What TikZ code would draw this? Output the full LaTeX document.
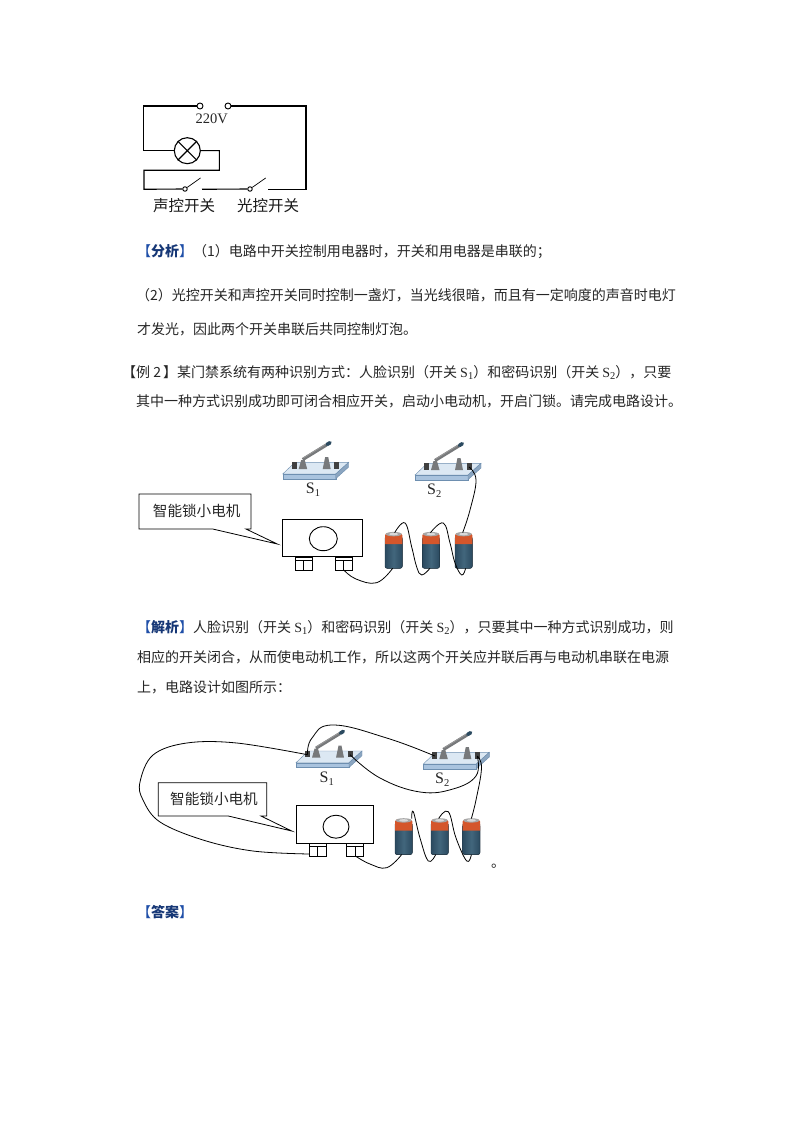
\documentclass[tikz,border=0pt]{standalone}
\usepackage{fontspec}
\usetikzlibrary{calc,shapes.geometric}
\setmainfont{Noto Sans CJK SC}
\newfontfamily\tnr{Liberation Serif}
\newcommand{\subnum}[1]{{\tnr S\raisebox{-2.2pt}{\fontsize{10.5}{11}\selectfont #1}}}
\newcommand{\bigS}[1]{{\tnr\fontsize{16}{16}\selectfont S\raisebox{-2.8pt}{\fontsize{10.5}{11}\selectfont #1}}}
\definecolor{bluebr}{HTML}{1F4FA8}
\definecolor{bodyD}{HTML}{2B4A60}
\definecolor{bodyL}{HTML}{42667C}
\definecolor{orng}{HTML}{D4562B}
\definecolor{plate}{HTML}{DCE8F3}
\definecolor{plateD}{HTML}{A9C3DE}
\definecolor{platee}{HTML}{6E8FB0}
\definecolor{postc}{HTML}{77797B}
\tikzset{
  para/.style={anchor=base west,inner sep=0pt,font=\fontsize{14}{14}\selectfont,text=black!85},
  wire/.style={draw=black,line width=0.8pt},
  cct/.style={draw=black,line width=1.1pt},
  term/.style={circle,draw=black,fill=white,line width=0.9pt,inner sep=0pt,minimum size=6pt},
  captxt/.style={inner sep=0pt,font=\fontsize{15.5}{16}\selectfont,text=black!90},
  callt/.style={inner sep=0pt,font=\fontsize{14.6}{15}\selectfont,text=black!85},
  slabel/.style={inner sep=0pt,text=black!85},
  pics/switchpic/.style={code={
    \fill[plate,draw=platee,line width=0.4pt] (0,0)--(53,0)--(66,-11.7)--(12.3,-11.7)--cycle;
    \fill[plateD,draw=platee,line width=0.4pt] (0,0)--(53,0)--(53,4.7)--(0,4.7)--cycle;
    \fill[platee!80,draw=platee,line width=0.4pt] (53,0)--(66,-11.7)--(66,-7)--(53,4.7)--cycle;
    \fill[black!75] (9,-12) rectangle (14,-5.5);
    \fill[black!75] (51.7,-12) rectangle (56.7,-5.5);
    \fill[postc] (16,-5)--(24.5,-5)--(22,-14)--(18.5,-14)--cycle;
    \fill[postc] (40,-5)--(48,-5)--(45.5,-17)--(42.5,-17)--cycle;
    \draw[postc,line width=3.2pt] (20,-14.5)--(44,-29.2);
    \draw[black!40,line width=0.8pt] (20.5,-16)--(44,-30.4);
    \draw[bodyD,line width=3.6pt,line cap=round] (44.5,-29.6)--(47.3,-31.3);
    \coordinate (-lt) at (11.5,-8);
    \coordinate (-rt) at (54,-8);
  }},
  pics/batterypic/.style={code={
    \fill[left color=bodyD,right color=bodyD,middle color=bodyL,rounded corners=2pt] (0,6)--(0,36.6)--(17.3,36.6)--(17.3,6)--cycle;
    \draw[bodyD!70!black,line width=0.4pt,rounded corners=2pt] (0,6)--(0,36.6)--(17.3,36.6)--(17.3,6);
    \fill[orng] (0,3.5)--(1.5,1.5)--(15.8,1.5)--(17.3,3.5)--(17.3,12.5)--(0,12.5)--cycle;
    \fill[black!35] (8.65,2.4) ellipse (8 and 2.2);
    \fill[white!85!black] (8.65,2.4) ellipse (4.5 and 1.3);
    \coordinate (-top) at (8.65,0);
    \coordinate (-bot) at (8.65,36.6);
  }},
  pics/motorpic/.style={code={
    \draw[black,line width=1pt] (0,0) rectangle (#1,37.5);
    \coordinate (-l) at (0,18);
  }},
}
\newcommand{\lug}[2]{% name, position of left-top corner
  \draw[black,line width=1pt,fill=white] (#2) rectangle ++(17,13.7);
  \draw[black,line width=1pt] (#2) ++(0,3.7) -- ++(17,0);
  \draw[black,line width=1pt] (#2) ++(8.5,3.7) -- ++(0,10);
  \coordinate (#1-b) at ($(#2)+(9,13.2)$);
  \coordinate (#1-bl) at ($(#2)+(0,11)$);
}
\begin{document}
\begin{tikzpicture}[x=1pt,y=-1pt]
\useasboundingbox (0,0) rectangle (794,1123);
\fill[white] (0,0) rectangle (794,1123);

% --- top circuit ---
\node[term] (ta) at (200,106) {};
\node[term] (tb) at (228,106) {};
\node[circle,draw=black,line width=1.1pt,inner sep=0pt,minimum size=26pt] (lamp) at (187.3,150.7) {};
\draw[cct] (lamp.45)--(lamp.225) (lamp.135)--(lamp.315);
\node[term,minimum size=4.5pt] (k1) at (185,189) {};
\node[term,minimum size=4.5pt] (k2) at (250,189) {};
\coordinate (b1) at (200.5,178);
\coordinate (b2) at (265.7,178);
\coordinate (e1) at (202,189.3);
\coordinate (e2) at (267.7,189.3);
\coordinate (w0) at (144,189.3);
\draw[cct] (ta.west)--(143.7,106)--(143.7,150.7)--(lamp.west);
\draw[cct] (tb.east)--(306,106)--(306,189.3)--(e2);
\draw[cct] (lamp.east)--(219.3,150.7)--(219.3,170.3)--(144,170.3)--(w0)--(k1.west);
\draw[cct] (e1)--(k2.west);
\draw[black,line width=0.7pt] (k1)--(b1);
\draw[black,line width=0.7pt] (k2)--(b2);
\node[inner sep=0pt,font=\tnr\fontsize{14.5}{15}\selectfont,text=black!85] (v220) at (211.7,119) {220V};
\node[captxt] (c1) at (184,205.5) {声控开关};
\node[captxt] (c2) at (268,205.5) {光控开关};

% --- paragraphs ---
\node[para] (p1) at (137,256) {\textcolor{bluebr}{【}\textbf{\textcolor{bluebr!70!black}{分析}}\textcolor{bluebr}{】}（1）电路中开关控制用电器时，开关和用电器是串联的；};
\node[para] (p2) at (136,300) {（2）光控开关和声控开关同时控制一盏灯，当光线很暗，而且有一定响度的声音时电灯};
\node[para] (p3) at (137,334) {才发光，因此两个开关串联后共同控制灯泡。};
\node[para] (p4) at (122,377) {【例 2\hspace{2pt}】某门禁系统有两种识别方式：人脸识别（开关 \subnum{1}）和密码识别（开关 \subnum{2}），只要};
\node[para] (p5) at (136,406.5) {其中一种方式识别成功即可闭合相应开关，启动小电动机，开启门锁。请完成电路设计。};
\node[para] (p6) at (137,632) {\textcolor{bluebr}{【}\textbf{\textcolor{bluebr!70!black}{解析}}\textcolor{bluebr}{】}人脸识别（开关 \subnum{1}）和密码识别（开关 \subnum{2}），只要其中一种方式识别成功，则};
\node[para] (p7) at (137,662) {相应的开关闭合，从而使电动机工作，所以这两个开关应并联后再与电动机串联在电源};
\node[para] (p8) at (137,692) {上，电路设计如图所示：};
\node[para] (p9) at (137,917) {\textcolor{bluebr}{【}\textbf{\textcolor{bluebr!70!black}{答案}}\textcolor{bluebr}{】}};

% --- figure 1 ---
\pic (as1) at (282.7,474) {switchpic};
\pic (as2) at (415,475) {switchpic};
\node[slabel] (asl1) at (313,490) {\bigS{1}};
\node[slabel] (asl2) at (434.3,491) {\bigS{2}};
\draw[black,line width=0.8pt,fill=white] (139,494)--(251,494)--(251,529)--(246,529)--(277.3,544)--(212.7,529)--(139,529)--cycle;
\node[callt] (at) at (196.7,511) {智能锁小电机};
\pic (am) at (282.3,519) {motorpic=80};
\node[ellipse,draw=black,line width=0.9pt,minimum width=28pt,minimum height=24pt,inner sep=0pt] (ae) at (323.3,538.7) {};
\lug{al}{295,557}
\lug{ar}{335,557}
\pic (ab1) at (385,531.7) {batterypic};
\pic (ab2) at (422.3,531.7) {batterypic};
\pic (ab3) at (455,531.7) {batterypic};
\coordinate (aw1) at (376.7,582.7);
\coordinate (aw2) at (405,523);
\coordinate (aw3) at (411.7,547);
\coordinate (aw3b) at (416.7,567);
\coordinate (aw4) at (421.7,575);
\coordinate (aw5) at (443.3,523);
\coordinate (aw6) at (450,543);
\coordinate (aw6b) at (455,563);
\coordinate (aw7) at (461.7,575);
\coordinate (aw8) at (476,480);
\coordinate (aw9) at (470,510);
\coordinate (aw0) at (356,579);
\coordinate (ab1t) at ($(ab1-top)+(1,1)$);
\coordinate (ab2t) at ($(ab2-top)+(-0.5,1)$);
\coordinate (ab3t) at ($(ab3-top)+(-1,1)$);
\coordinate (ab1b) at ($(ab1-bot)+(-1,0)$);
\coordinate (ab2b) at ($(ab2-bot)+(-1,0)$);
\coordinate (ab3b) at ($(ab3-bot)+(2,0)$);
\draw[wire] plot[smooth,tension=0.7] coordinates {(ar-b)(aw0)(aw1)(ab1b)};
\draw[wire] plot[smooth,tension=0.7] coordinates {(ab1t)(aw2)(aw3)(aw3b)(aw4)(ab2b)};
\draw[wire] plot[smooth,tension=0.7] coordinates {(ab2t)(aw5)(aw6)(aw6b)(aw7)(ab3b)};
\draw[wire] plot[smooth,tension=0.7] coordinates {(as2-rt)(aw8)(aw9)(ab3t)};

% --- figure 2 ---
\pic (bs1) at (296,762.7) {switchpic};
\pic (bs2) at (423.3,764) {switchpic};
\node[slabel] (bsl1) at (326.7,779) {\bigS{1}};
\node[slabel] (bsl2) at (442.3,780) {\bigS{2}};
\draw[black,line width=0.8pt,fill=white] (158.3,782.7)--(266.7,782.7)--(266.7,816)--(261,816)--(291.7,831)--(228.3,816)--(158.3,816)--cycle;
\node[callt] (bt) at (214,799) {智能锁小电机};
\pic (bm) at (296,805.5) {motorpic=77.3};
\node[ellipse,draw=black,line width=0.9pt,minimum width=26pt,minimum height=23pt,inner sep=0pt] (be) at (336,826.7) {};
\lug{bl}{309,843}
\lug{br}{346.7,843}
\pic (bb1) at (395,818) {batterypic};
\pic (bb2) at (431,818) {batterypic};
\pic (bb3) at (462.7,818) {batterypic};
\coordinate (bbl) at ($(bl-bl)+(0,0)$);
\coordinate (bw21) at (253,851);
\coordinate (bw22) at (203,840);
\coordinate (bw1) at (160,822);
\coordinate (bw23) at (143,800);
\coordinate (bw2) at (140,782);
\coordinate (bw24) at (153,755);
\coordinate (bw3) at (186.7,743);
\coordinate (bw4) at (236.7,743);
\coordinate (bw25) at (312,738);
\coordinate (bw5) at (333,725);
\coordinate (bw6) at (386.7,738);
\coordinate (bw7) at (380,778);
\coordinate (bw8) at (420,792);
\coordinate (bw9) at (453,789);
\coordinate (bw10) at (476,776);
\coordinate (bw11) at (481.5,768);
\coordinate (bw12) at (476,800);
\coordinate (bw13) at (386.7,867.7);
\coordinate (bw14) at (413.3,811.7);
\coordinate (bw15) at (420,838);
\coordinate (bw16) at (428.3,861);
\coordinate (bw17) at (448.3,811.7);
\coordinate (bw18) at (456,838);
\coordinate (bw19) at (466.7,861);
\coordinate (bw20) at (370,864);
\coordinate (bb1t) at ($(bb1-top)+(8,0.5)$);
\coordinate (bb2t) at ($(bb2-top)+(-1,0.5)$);
\coordinate (bb3t) at ($(bb3-top)+(0,0.5)$);
\coordinate (bb1b) at ($(bb1-bot)+(-2,0)$);
\coordinate (bb2b) at ($(bb2-bot)+(-4,0)$);
\coordinate (bb3b) at ($(bb3-bot)+(0,0)$);
\draw[wire] plot[smooth,tension=0.6] coordinates {(bbl)(bw21)(bw22)(bw1)(bw23)(bw2)(bw24)(bw3)(bw4)(bs1-lt)};
\draw[wire] plot[smooth,tension=0.75] coordinates {(bs1-lt)(bw25)(bw5)(bw6)(bs2-lt)};
\draw[wire] plot[smooth,tension=0.7] coordinates {(bs1-rt)(bw7)(bw8)(bw9)(bw10)(bs2-rt)};
\draw[wire] plot[smooth,tension=0.7] coordinates {(bs2-rt)(bw11)(bw12)(bb3t)};
\draw[wire] plot[smooth,tension=0.7] coordinates {(br-b)(bw20)(bw13)(bb1b)};
\draw[wire] plot[smooth,tension=0.7] coordinates {(bb1t)(bw14)(bw15)(bw16)(bb2b)};
\draw[wire] plot[smooth,tension=0.7] coordinates {(bb2t)(bw17)(bw18)(bw19)(bb3b)};
\node[inner sep=0pt,font=\fontsize{14}{14}\selectfont,text=black!85] (dot) at (498,866) {。};
\end{tikzpicture}
\end{document}
